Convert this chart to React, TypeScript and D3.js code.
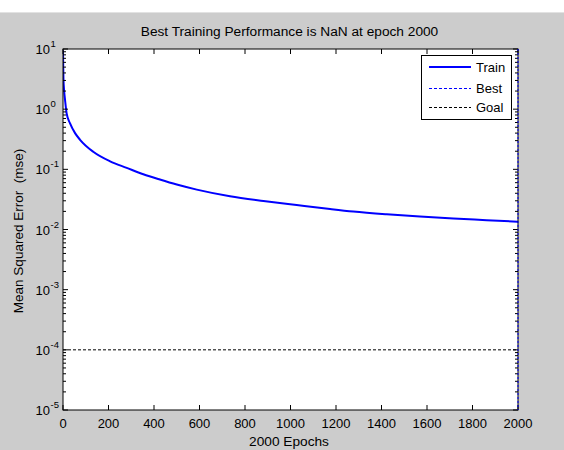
import React from "react";
import * as d3 from "d3";

const epochs = [0, 1, 2, 5, 9, 16, 31, 53, 75, 133, 207, 280, 353, 426, 500, 588, 734, 881, 1027, 1174, 1276, 1423, 1569, 1716, 1862, 2000];
const trainMse = [9.5, 5.0, 3.2, 2.0, 1.42, 0.85, 0.58, 0.40, 0.31, 0.196, 0.136, 0.106, 0.083, 0.0676, 0.0558, 0.046, 0.0357, 0.0298, 0.0255, 0.0219, 0.0199, 0.0179, 0.0164, 0.0152, 0.0143, 0.0135];
const xTicks = [0, 200, 400, 600, 800, 1000, 1200, 1400, 1600, 1800, 2000];
const yExponents = [1, 0, -1, -2, -3, -4, -5];
const goalValue = 1e-4;
const bestEpoch = 2000;
const titleText = "Best Training Performance is NaN at epoch 2000";
const xLabelText = "2000 Epochs";
const yLabelText = "Mean Squared Error  (mse)";
const legendItems = ["Train", "Best", "Goal"];

const W = 564;
const H = 450;
const L = 63, R = 518, T = 49, B = 410;
const FONT = "'Liberation Sans', Arial, sans-serif";

export default function App() {
  const x = d3.scaleLinear().domain([0, 2000]).range([L, R]);
  const y = d3.scaleLog().domain([1e-5, 10]).range([B, T]);
  const line = d3
    .line<number>()
    .x((_, i) => x(epochs[i]))
    .y((d) => y(d))
    .curve(d3.curveMonotoneX);
  const path = line(trainMse) || "";

  const minor: number[] = [];
  for (let e = -5; e < 1; e++) {
    for (let k = 2; k <= 9; k++) minor.push(k * Math.pow(10, e));
  }

  return (
    <svg width={W} height={H} style={{ position: "absolute", left: 0, top: 0 }} fontFamily={FONT}>
      <rect x={0} y={0} width={W} height={H} fill="#ffffff" />
      <rect x={0} y={12} width={W} height={H - 12} fill="#cccccc" />
      <line x1={0} x2={W} y1={12.5} y2={12.5} stroke="#e2e2e2" />
      <rect x={L} y={T} width={R - L} height={B - T} fill="#ffffff" />

      {/* goal line */}
      <line x1={L} x2={R} y1={y(goalValue)} y2={y(goalValue)} stroke="#000" strokeDasharray="3,2" strokeWidth={1} />

      {/* train curve */}
      <clipPath id="clip">
        <rect x={L} y={T} width={R - L} height={B - T} />
      </clipPath>
      <path d={path} fill="none" stroke="#0000ff" strokeWidth={2} clipPath="url(#clip)" />

      {/* ticks */}
      {xTicks.map((t) => (
        <g key={"xt" + t}>
          <line x1={x(t)} x2={x(t)} y1={B} y2={B - 5} stroke="#000" />
          <line x1={x(t)} x2={x(t)} y1={T} y2={T + 5} stroke="#000" />
          <text x={x(t)} y={428} fontSize={13} textAnchor="middle" fill="#000">
            {t}
          </text>
        </g>
      ))}
      {yExponents.map((e) => {
        const yy = y(Math.pow(10, e));
        return (
          <g key={"ye" + e}>
            <line x1={L} x2={L + 5} y1={yy} y2={yy} stroke="#000" />
            <line x1={R} x2={R - 5} y1={yy} y2={yy} stroke="#000" />
            <text x={50} y={yy + 5} fontSize={13} textAnchor="end" fill="#000">
              10
            </text>
            <text x={50.5} y={yy - 2} fontSize={9.5} textAnchor="start" fill="#000">
              {e}
            </text>
          </g>
        );
      })}
      {minor.map((m, i) => {
        const yy = y(m);
        return (
          <g key={"mn" + i}>
            <line x1={L} x2={L + 3} y1={yy} y2={yy} stroke="#000" />
            <line x1={R} x2={R - 3} y1={yy} y2={yy} stroke="#000" />
          </g>
        );
      })}

      {/* axes box and best line (vertical dotted blue at epoch 2000) */}
      <rect x={L} y={T} width={R - L} height={B - T} fill="none" stroke="#000" strokeWidth={1} />
      <line x1={x(bestEpoch)} x2={x(bestEpoch)} y1={T} y2={B} stroke="#0000ff" strokeDasharray="2,2" strokeWidth={1} />

      {/* legend */}
      <rect x={421.5} y={55.5} width={90} height={64} fill="#ffffff" stroke="#000" />
      <line x1={429} x2={471} y1={67} y2={67} stroke="#0000ff" strokeWidth={2} />
      <line x1={429} x2={471} y1={88.5} y2={88.5} stroke="#0000ff" strokeDasharray="3,2" />
      <line x1={429} x2={471} y1={107.5} y2={107.5} stroke="#000" strokeDasharray="3,2" />
      {legendItems.map((s, i) => (
        <text key={s} x={476} y={[72, 93, 112][i]} fontSize={13} fill="#000">
          {s}
        </text>
      ))}

      {/* labels */}
      <text x={289.5} y={36} fontSize={13.7} textAnchor="middle" fill="#000">
        {titleText}
      </text>
      <text x={289} y={446} fontSize={13.7} textAnchor="middle" fill="#000">
        {xLabelText}
      </text>
      <text
        transform={`translate(23,231) rotate(-90)`}
        fontSize={13.5}
        textAnchor="middle"
        fill="#000"
        style={{ whiteSpace: "pre" }}
      >
        {yLabelText}
      </text>
    </svg>
  );
}
